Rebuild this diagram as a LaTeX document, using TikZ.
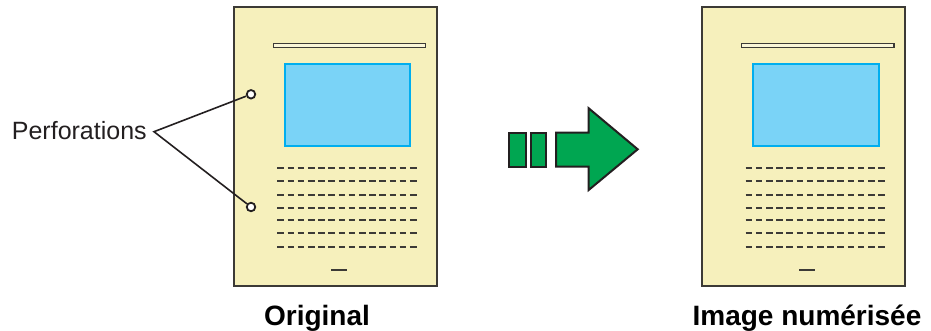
\documentclass[tikz,border=0pt]{standalone}
\usepackage{fontspec}
\setmainfont{Liberation Sans}
\definecolor{paper}{HTML}{F6F0BC}
\definecolor{pageedge}{HTML}{3C3A36}
\definecolor{picfill}{HTML}{7AD3F7}
\definecolor{picedge}{HTML}{00AEEF}
\definecolor{arrowgreen}{HTML}{00A651}
\definecolor{ink}{HTML}{231F20}
\begin{document}
\begin{tikzpicture}[x=1pt,y=-1pt,
  pagebox/.style={draw=pageedge,fill=paper,line width=1.8pt},
  titlebar/.style={draw=pageedge,fill=paper!60!white,line width=1.2pt},
  picbox/.style={draw=picedge,fill=picfill,line width=1.8pt},
  textline/.style={draw=pageedge,line width=2pt,dash pattern=on 6.6pt off 3.6pt},
  folio/.style={draw=pageedge,line width=2pt},
  hole/.style={circle,draw=ink,fill=white,line width=1.8pt,minimum size=8.5pt,inner sep=0pt},
  leader/.style={draw=ink,line width=1.6pt},
  greenbox/.style={draw=ink,fill=arrowgreen,line width=2pt,line join=miter},
  caption/.style={font=\bfseries\fontsize{28}{30}\selectfont,text=black,inner sep=0pt,anchor=base},
  plainlabel/.style={font=\fontsize{25}{27}\selectfont,text=ink,inner sep=0pt,anchor=base west}
]
\useasboundingbox (0,0) rectangle (931,331);

\foreach \dx in {0,468.3}{
  \begin{scope}[xshift=\dx pt]
    \draw[pagebox] (234,7.3) rectangle (436.7,286);
    \draw[titlebar] (273.3,43.7) rectangle (425.7,47.3);
    \draw[picbox] (285,64.3) rectangle (410.3,146);
    \foreach \yy in {167.7,181.3,194.7,208,219.7,233.3,246.7}{
      \draw[textline] (277.3,\yy) -- (417,\yy);
    }
    \draw[folio] (331,270) -- (346.7,270);
  \end{scope}
}

% perforations
\node[hole] (h1) at (251,94.3) {};
\node[hole] (h2) at (251,207) {};
\node[plainlabel] (perf) at (11.7,139.3) {Perforations};
\coordinate (apex) at (154,131.7);
\draw[leader] (h1) -- (apex) -- (h2);

% arrow
\draw[greenbox] (509.3,132.7) rectangle (525.7,166.7);
\draw[greenbox] (530.7,132.7) rectangle (546,166.7);
\draw[greenbox] (556,132.7) -- (588.7,132.7) -- (588.7,108.3) -- (637.7,149.3)
  -- (588.7,190) -- (588.7,166.7) -- (556,166.7) -- cycle;

% captions
\node[caption] (orig) at (317,325) {Original};
\node[caption] (scan) at (807,325) {Image numérisée};
\end{tikzpicture}
\end{document}
